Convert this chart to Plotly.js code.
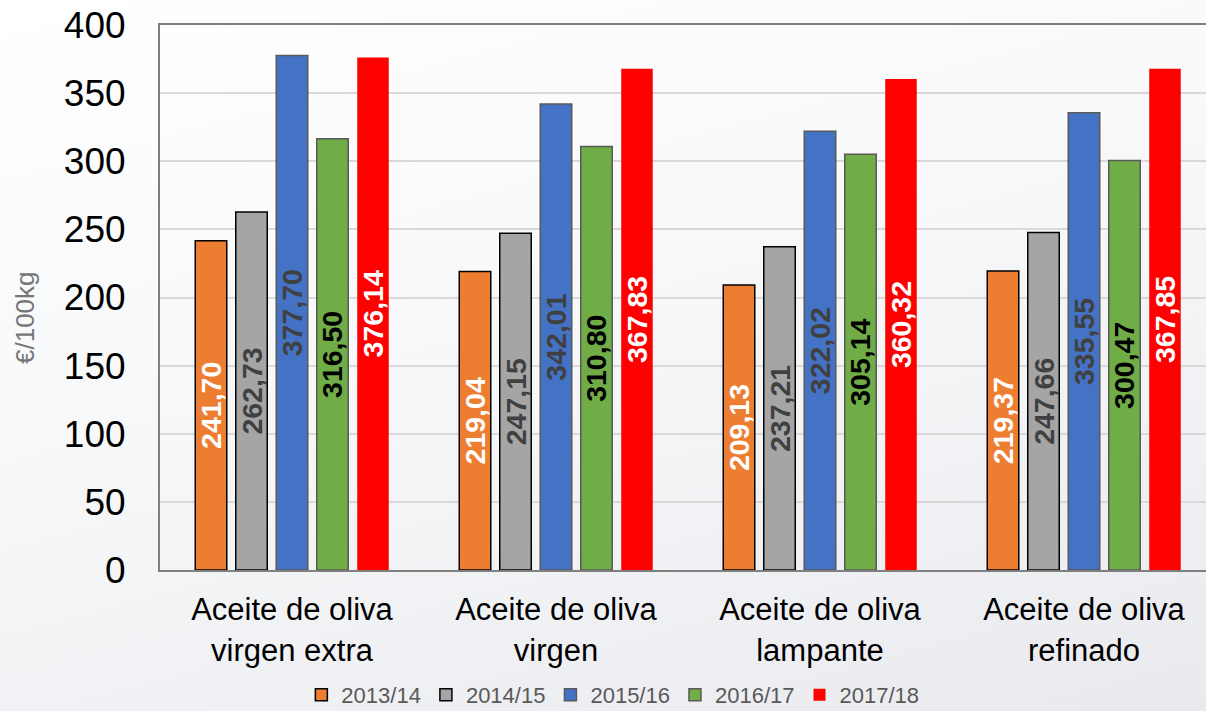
<!DOCTYPE html>
<html>
<head>
<meta charset="utf-8">
<script src="https://cdn.plot.ly/plotly-3.0.1.min.js"></script>
<style>
  html, body { margin: 0; padding: 0; overflow: hidden; width: 1206px; height: 711px; }
  body { background: linear-gradient(165deg, #ffffff 0%, #f7f8f9 45%, #e9eaee 100%); }
  #chart { width: 1216px; height: 711px; }
</style>
</head>
<body>
<div id="chart"></div>
<script>
const categories = [
  "Aceite de oliva<br>virgen extra",
  "Aceite de oliva<br>virgen",
  "Aceite de oliva<br>lampante",
  "Aceite de oliva<br>refinado"
];
const seasons = ["2013/14", "2014/15", "2015/16", "2016/17", "2017/18"];
const s2013 = [241.70, 219.04, 209.13, 219.37];
const s2014 = [262.73, 247.15, 237.21, 247.66];
const s2015 = [377.70, 342.01, 322.02, 335.55];
const s2016 = [316.50, 310.80, 305.14, 300.47];
const s2017 = [376.14, 367.83, 360.32, 367.85];
const yTicks = [0, 50, 100, 150, 200, 250, 300, 350, 400];
const yTitle = "€/100kg";

const seriesValues = [s2013, s2014, s2015, s2016, s2017];
const fills = ["#ED7D31", "#A5A5A5", "#4472C4", "#70AD47", "#FF0000"];
const outlines = ["#000000", "#000000", "#595959", "#595959", "#FF0000"];
const outlineW = [1.5, 1.5, 1.5, 1.5, 0];
const textColors = ["#FFFFFF", "#404040", "#404040", "#000000", "#FFFFFF"];

const traces = seasons.map((name, i) => ({
  type: "bar",
  name: name,
  x: categories,
  y: seriesValues[i],
  marker: { color: fills[i], line: { color: outlines[i], width: outlineW[i] } },
  texttemplate: "%{y:.2f}",
  textposition: "inside",
  insidetextanchor: "middle",
  textangle: -90,
  constraintext: "none",
  textfont: { family: "Liberation Sans, Arial, sans-serif", size: 28.5, color: textColors[i], weight: "bold" },
  hoverinfo: "skip"
}));

const layout = {
  width: 1216,
  height: 711,
  separators: ",.",
  paper_bgcolor: "rgba(0,0,0,0)",
  plot_bgcolor: "rgba(0,0,0,0)",
  margin: { l: 160, r: 0, t: 25, b: 141 },
  barmode: "group",
  bargap: 0.233,
  bargroupgap: 0.222,
  font: { family: "Liberation Sans, Arial, sans-serif", color: "#000000" },
  xaxis: {
    type: "category",
    range: [-0.5, 3.5],
    showline: true,
    mirror: true,
    linecolor: "#7F7F7F",
    linewidth: 2,
    ticks: "outside",
    ticklen: 11,
    tickcolor: "rgba(0,0,0,0)",
    tickfont: { size: 31, color: "#000000" },
    showgrid: false,
    fixedrange: true
  },
  yaxis: {
    range: [0, 400],
    tickvals: yTicks,
    ticktext: yTicks.map(String),
    showline: true,
    mirror: false,
    linecolor: "#7F7F7F",
    linewidth: 2,
    gridcolor: "#D9D9D9",
    gridwidth: 2,
    zeroline: false,
    ticks: "outside",
    ticklen: 25,
    tickcolor: "rgba(0,0,0,0)",
    tickfont: { size: 37, color: "#000000" },
    automargin: false,
    fixedrange: true
  },
  annotations: [{
    text: yTitle,
    textangle: -90,
    xref: "paper", yref: "paper",
    x: -135 / 1056, xanchor: "center",
    y: (570 - 318) / 545, yanchor: "middle",
    showarrow: false,
    font: { size: 26, color: "#767676" }
  }],
  legend: {
    orientation: "h",
    xref: "container",
    yref: "container",
    x: 0.504,
    xanchor: "center",
    y: 0.052,
    yanchor: "top",
    font: { size: 22, color: "#595959" },
    bgcolor: "rgba(0,0,0,0)",
    traceorder: "normal"
  },
  showlegend: true
};

Plotly.newPlot("chart", traces, layout, { displayModeBar: false, staticPlot: true });
</script>
</body>
</html>
